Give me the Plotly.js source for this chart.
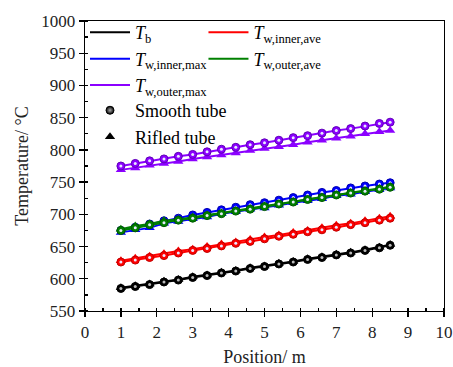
<!DOCTYPE html>
<html>
<head>
<meta charset="utf-8">
<script src="https://cdn.plot.ly/plotly-3.0.1.min.js"></script>
<style>html,body{margin:0;padding:0;background:#fff;}#chart{width:453px;height:367px;}</style>
</head>
<body>
<div id="chart"></div>
<script>
// Position along tube (m)
var position = [1, 1.4, 1.8, 2.2, 2.6, 3.0, 3.4, 3.8, 4.2, 4.6, 5.0, 5.4, 5.8, 6.2, 6.6, 7.0, 7.4, 7.8, 8.2, 8.5];

// Smooth tube temperatures (°C)
var tbSmooth        = [585, 588, 591, 595, 598, 602, 605, 609, 612, 616, 619, 623, 626, 630, 633, 637, 640, 644, 648, 652];
var innerAveSmooth  = [626, 629, 633, 636, 640, 644, 647, 651, 655, 658, 662, 666, 669, 673, 676, 680, 684, 687, 691, 694];
var innerMaxSmooth  = [675, 680, 685, 690, 694, 699, 703, 707, 711, 715, 718, 722, 726, 730, 734, 737, 741, 744, 747, 749];
var outerAveSmooth  = [675, 679, 684, 687, 691, 694, 698, 701, 705, 708, 712, 716, 719, 723, 726, 730, 733, 736, 739, 742];
var outerMaxSmooth  = [775, 779, 783, 786, 790, 793, 797, 801, 804, 808, 811, 815, 819, 822, 826, 830, 833, 837, 841, 843];

// Rifled tube temperatures (°C)
var tbRifled        = [586, 589, 592, 596, 599, 603, 606, 610, 613, 617, 620, 624, 627, 631, 634, 638, 641, 645, 649, 653];
var innerAveRifled  = [628, 632, 635, 639, 643, 646, 650, 654, 657, 661, 665, 668, 672, 675, 679, 683, 686, 690, 694, 697];
var innerMaxRifled  = [672, 676, 679, 686, 689, 693, 696, 701, 704, 708, 710, 714, 718, 721, 724, 729, 731, 735, 738, 741];
var outerAveRifled  = [677, 682, 685, 690, 692, 696, 699, 702, 706, 709, 713, 716, 720, 723, 727, 730, 734, 737, 740, 743];
var outerMaxRifled  = [769, 772, 776, 779, 782, 786, 789, 792, 795, 799, 802, 805, 808, 812, 815, 818, 821, 825, 828, 830];

var seriesNames = ['<i>T</i><sub>b</sub>', '<i>T</i><sub>w,inner,ave</sub>', '<i>T</i><sub>w,inner,max</sub>',
                   '<i>T</i><sub>w,outer,ave</sub>', '<i>T</i><sub>w,outer,max</sub>'];
var colors = ['#000000', '#ff0000', '#0000ff', '#008000', '#8b00ff'];
var darkColors = ['#000000', '#c00000', '#0000b0', '#005a00', '#6000b8'];
var smoothSets = [tbSmooth, innerAveSmooth, innerMaxSmooth, outerAveSmooth, outerMaxSmooth];
var rifledSets = [tbRifled, innerAveRifled, innerMaxRifled, outerAveRifled, outerMaxRifled];
var tubeNames = ['Smooth tube', 'Rifled tube'];

var traces = [];
for (var i = 0; i < 5; i++) {
  traces.push({
    x: position, y: rifledSets[i], type: 'scatter', mode: 'lines+markers', showlegend: false,
    line: {color: colors[i], width: 2},
    marker: {symbol: 'triangle-up', size: 9, color: colors[i]}
  });
  traces.push({
    x: position, y: smoothSets[i], type: 'scatter', mode: 'lines+markers', showlegend: false,
    line: {color: colors[i], width: 2},
    marker: {symbol: 'circle', size: 8, color: colors[i], line: {color: darkColors[i], width: 1}}
  });
  // sphere highlight on smooth-tube circles
  traces.push({
    x: position, y: smoothSets[i], type: 'scatter', mode: 'markers', showlegend: false,
    marker: {symbol: 'circle', size: 3, color: i === 0 ? '#bbbbbb' : '#e8e8ff', line: {width: 0}}
  });
}
// legend keys
var col1 = [0, 2, 4], col2 = [1, 3];
col1.forEach(function (k) {
  traces.push({x: [null], y: [null], type: 'scatter', mode: 'lines', name: seriesNames[k],
    legend: 'legend', line: {color: colors[k], width: 2}});
});
col2.forEach(function (k) {
  traces.push({x: [null], y: [null], type: 'scatter', mode: 'lines', name: seriesNames[k],
    legend: 'legend2', line: {color: colors[k], width: 2}});
});
traces.push({x: [null], y: [null], type: 'scatter', mode: 'markers', name: tubeNames[0], legend: 'legend3',
  marker: {symbol: 'circle', size: 8, color: '#000', gradient: {type: 'radial', color: '#aaaaaa'}, line: {color: '#000', width: 1}}});
traces.push({x: [null], y: [null], type: 'scatter', mode: 'markers', name: tubeNames[1], legend: 'legend3',
  marker: {symbol: 'triangle-up', size: 9, color: '#000'}});

var fontFam = '"Liberation Serif", "Times New Roman", serif';
var legendBase = {bgcolor: 'rgba(0,0,0,0)', borderwidth: 0, font: {family: fontFam, size: 18, color: '#000'},
  xanchor: 'left', yanchor: 'top', orientation: 'v', tracegroupgap: 0, itemwidth: 40};

var layout = {
  width: 453, height: 367,
  margin: {l: 85, r: 9, t: 21, b: 56},
  paper_bgcolor: '#fff', plot_bgcolor: '#fff',
  font: {family: fontFam, size: 17, color: '#000'},
  xaxis: {
    range: [0, 10], dtick: 1, tick0: 0, showgrid: false, zeroline: false,
    showline: true, linecolor: '#000', linewidth: 1.3, mirror: true,
    ticks: 'outside', ticklen: 5, tickwidth: 1.3, tickcolor: '#000',
    tickfont: {family: fontFam, size: 17, color: '#222'},
    minor: {dtick: 0.5, ticks: 'inside', ticklen: 3, tickcolor: '#000'},
    title: {text: 'Position/ m', font: {family: fontFam, size: 18, color: '#222'}, standoff: 14}
  },
  yaxis: {
    range: [550, 1000], dtick: 50, tick0: 550, showgrid: false, zeroline: false,
    showline: true, linecolor: '#000', linewidth: 1.3, mirror: true,
    ticks: 'outside', ticklen: 5, tickwidth: 1.3, tickcolor: '#000',
    tickfont: {family: fontFam, size: 17, color: '#222'},
    minor: {dtick: 25, ticks: 'inside', ticklen: 3, tickcolor: '#000'},
    title: {text: 'Temperature/ °C', font: {family: fontFam, size: 18, color: '#222'}, standoff: 8}
  },
  legend: Object.assign({}, legendBase, {x: 0.0, y: 1.024}),
  legend2: Object.assign({}, legendBase, {x: 0.33, y: 1.024}),
  legend3: Object.assign({}, legendBase, {x: 0.0, y: 0.755})
};

Plotly.newPlot('chart', traces, layout, {displayModeBar: false, staticPlot: true});
</script>
</body>
</html>
